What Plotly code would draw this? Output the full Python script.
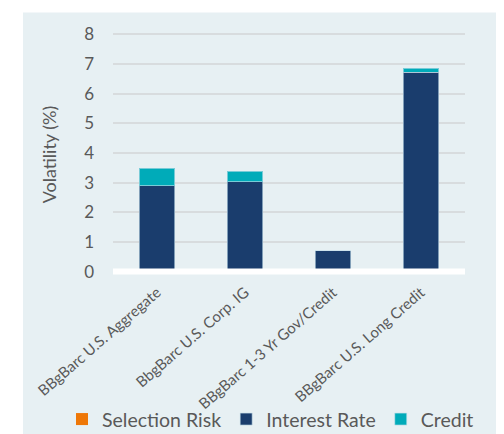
import plotly.graph_objects as go

categories = ["BBgBarc U.S. Aggregate", "BbgBarc U.S. Corp. IG",
              "BBgBarc 1-3 Yr Gov/Credit", "BBgBarc U.S. Long Credit"]
selection_risk = [0, 0, 0, 0]
interest_rate = [2.90, 3.03, 0.70, 6.73]
credit = [0.58, 0.36, 0.0, 0.13]
y_ticks = [0, 1, 2, 3, 4, 5, 6, 7, 8]

PANEL = "#e7f0f3"
NAVY = "#1a3d6d"
TEAL = "#00abb9"
ORANGE = "#ee7707"
TXT = "#595959"
FONT = "Lato"

# the page body adds an 8px offset; figure coords = reference coords - 8
OFF = 8
W, H = 504 - OFF, 434 - OFF
L, R, T, B = 113 - OFF, 39, 32.5 - OFF, 157.8
pw, ph = W - L - R, H - T - B


def px(x):
    return (x - OFF - L) / pw


def py(y):
    return (H - B - (y - OFF)) / ph


fig = go.Figure()
fig.add_bar(x=categories, y=selection_risk, name="Selection Risk",
            marker=dict(color=ORANGE, line=dict(width=0)), width=0.4)
fig.add_bar(x=categories, y=interest_rate, name="Interest Rate",
            marker=dict(color=NAVY, line=dict(color="rgba(200,225,235,0.6)", width=1)), width=0.4)
fig.add_bar(x=categories, y=credit, name="Credit",
            marker=dict(color=TEAL, line=dict(color="rgba(200,225,235,0.6)", width=1)), width=0.4)

shapes = [
    dict(type="rect", xref="paper", yref="paper", x0=px(23), x1=px(504 + 5),
         y0=py(434 + 5), y1=py(12), fillcolor=PANEL, line=dict(width=0), layer="below"),
    dict(type="line", xref="paper", yref="y", x0=0, x1=1, y0=0, y1=0,
         line=dict(color="white", width=6), layer="above"),
]

fig.update_layout(
    width=W, height=H,
    margin=dict(l=L, r=R, t=T, b=B, pad=0, autoexpand=False),
    paper_bgcolor="white", plot_bgcolor=PANEL,
    barmode="stack", bargap=0.6,
    font=dict(family=FONT, color=TXT),
    shapes=shapes,
    showlegend=True,
    legend=dict(orientation="h", xref="paper", yref="paper",
                x=px(62), xanchor="left",
                y=py(420), yanchor="middle",
                font=dict(size=19.5, color=TXT), traceorder="normal",
                itemwidth=30, bgcolor="rgba(0,0,0,0)"),
    xaxis=dict(tickangle=-41, tickfont=dict(size=15, color=TXT), showgrid=False,
               showline=False, ticks="", ticklabelstandoff=4, automargin=False),
    yaxis=dict(range=[-0.15, 8.05], tickvals=y_ticks, tickfont=dict(size=17, color=TXT),
               showgrid=True, gridcolor="#d8dcde", gridwidth=1.5, zeroline=False,
               ticks="", ticklabelstandoff=18, automargin=False,
               title=dict(text="Volatility (%)", font=dict(size=18, color=TXT), standoff=22)),
)

fig.write_html("out.html")
